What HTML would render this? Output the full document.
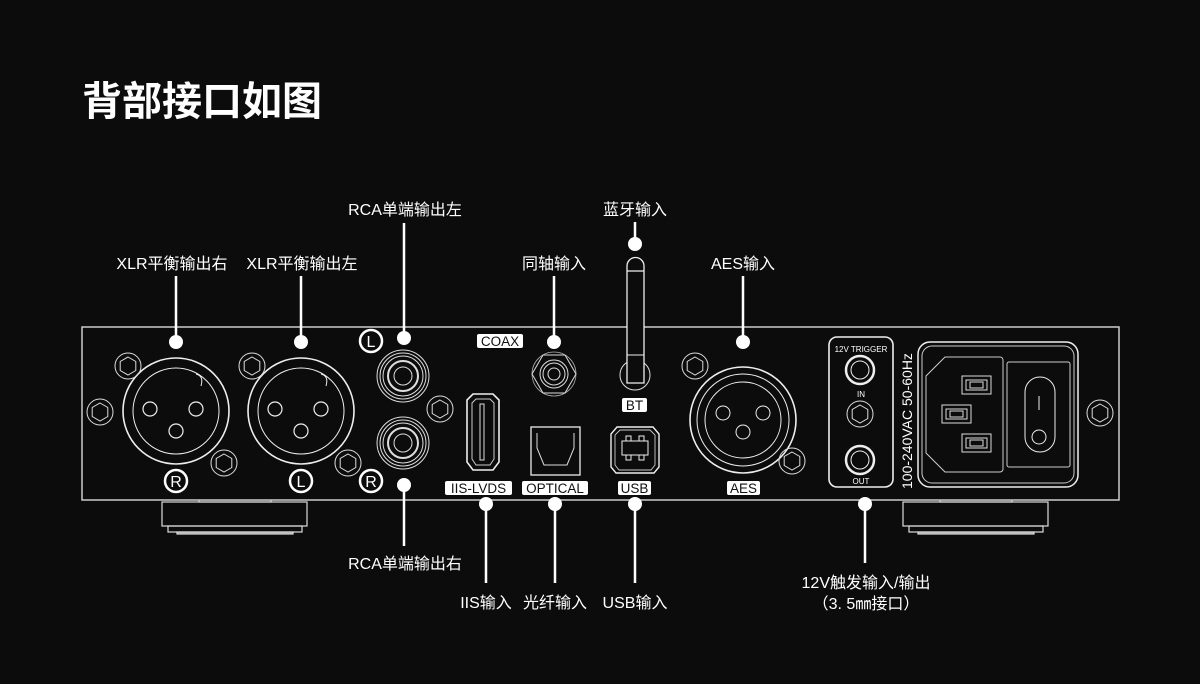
<!DOCTYPE html>
<html><head><meta charset="utf-8"><style>
html,body{margin:0;padding:0;background:#0c0c0c;}
svg{display:block}
text{font-family:"Liberation Sans","Noto Sans CJK SC",sans-serif;fill:#fff}
</style></head><body>
<svg width="1200" height="684" viewBox="0 0 1200 684" xmlns="http://www.w3.org/2000/svg">
<rect width="1200" height="684" fill="#0c0c0c"/>
<text x="82" y="115" font-size="40" font-weight="bold" font-family="'Noto Sans CJK SC',sans-serif">背部接口如图</text>

<!-- feet -->
<g fill="none" stroke="#ddd" stroke-width="1.2">
<rect x="199" y="500" width="72" height="2"/>
<rect x="162" y="502" width="145" height="24"/>
<rect x="168" y="526" width="134" height="6"/>
<rect x="177" y="532" width="116" height="2" fill="#999"/>
<rect x="940" y="500" width="72" height="2"/>
<rect x="903" y="502" width="145" height="24"/>
<rect x="909" y="526" width="134" height="6"/>
<rect x="918" y="532" width="116" height="2" fill="#999"/>
</g>
<!-- panel -->
<rect x="82" y="327" width="1037" height="173" fill="#0c0c0c" stroke="#ccc" stroke-width="1.5"/>

<defs>
<g id="hex"><circle r="13" fill="none" stroke="#ddd" stroke-width="1"/><polygon points="0,-9 7.8,-4.5 7.8,4.5 0,9 -7.8,4.5 -7.8,-4.5" fill="none" stroke="#ddd" stroke-width="1"/></g>
<g id="xlr" fill="none" stroke="#eee">
<circle r="53" stroke-width="1.6"/><circle r="43" stroke-width="1"/>
<circle cx="-26" cy="-2" r="7" stroke-width="1.2"/><circle cx="20" cy="-2" r="7" stroke-width="1.2"/><circle cx="0" cy="20" r="7" stroke-width="1.2"/>
</g>
<g id="rca" fill="none" stroke="#ddd" stroke-width="1"><circle r="26"/><circle r="23"/><circle r="20"/><circle r="15" stroke-width="2"/><circle r="9"/></g>
<g id="badge"><circle r="11" fill="none" stroke="#fff" stroke-width="2.5"/></g>
</defs>

<!-- XLR -->
<use href="#xlr" x="176" y="411"/><use href="#xlr" x="301" y="411"/>
<path d="M196,374 q8,2 5,12" fill="none" stroke="#eee"/><path d="M321,374 q8,2 5,12" fill="none" stroke="#eee"/>
<use href="#hex" x="128" y="366"/><use href="#hex" x="100" y="412"/><use href="#hex" x="224" y="463"/>
<use href="#hex" x="252" y="366"/><use href="#hex" x="348" y="463"/>
<use href="#rca" x="403" y="376"/><use href="#rca" x="403" y="443"/>
<use href="#hex" x="440" y="409"/>
<!-- badges -->
<use href="#badge" x="176" y="481"/><text x="176" y="487" font-size="16" text-anchor="middle">R</text>
<use href="#badge" x="301" y="481"/><text x="301" y="487" font-size="16" text-anchor="middle">L</text>
<use href="#badge" x="371" y="481"/><text x="371" y="487" font-size="16" text-anchor="middle">R</text>
<use href="#badge" x="371" y="341"/><text x="371" y="347" font-size="16" text-anchor="middle">L</text>

<!-- HDMI -->
<path d="M473,394 h20 l6,6 v62 l-6,8 h-20 l-6,-8 v-62 z" fill="none" stroke="#eee" stroke-width="1.6"/>
<path d="M476,399 h14 l4,4 v56 l-4,6 h-14 l-4,-6 v-56 z" fill="none" stroke="#ccc" stroke-width="1"/>
<rect x="480" y="404" width="4" height="56" fill="none" stroke="#ddd" stroke-width="1"/>
<!-- coax -->
<circle cx="554" cy="374" r="22" fill="none" stroke="#aaa" stroke-width="0.8"/>
<polygon points="543,355 565,355 576,374 565,393 543,393 532,374" fill="none" stroke="#ddd"/>
<circle cx="554" cy="374" r="14" fill="none" stroke="#ddd"/><circle cx="554" cy="374" r="11" fill="none" stroke="#ddd"/><circle cx="554" cy="374" r="6" fill="none" stroke="#ddd"/>
<!-- optical -->
<rect x="531" y="427" width="49" height="48" fill="none" stroke="#ddd" stroke-width="1.4"/>
<path d="M537,433 v15 l7,17 h23 l7,-17 v-15" fill="none" stroke="#ddd"/>
<!-- antenna -->
<circle cx="635" cy="375" r="15" fill="none" stroke="#ddd"/>
<path d="M627,383 v-117 a8,8 0 0 1 17,0 v117 z" fill="#0c0c0c" stroke="#eee" stroke-width="1.3"/>
<line x1="627" y1="271" x2="644" y2="271" stroke="#eee" stroke-width="1.3"/>
<line x1="627" y1="355" x2="644" y2="355" stroke="#eee"/>
<!-- USB -->
<path d="M617,427 h36 l6,7 v33 l-5,6 h-38 l-5,-6 v-33 z" fill="none" stroke="#eee" stroke-width="1.4"/>
<path d="M620,430 h30 l5,5 v30 l-4,5 h-32 l-4,-5 v-30 z" fill="none" stroke="#ccc" stroke-width="0.9"/>
<rect x="622" y="441" width="26" height="14" fill="none" stroke="#eee"/>
<rect x="626" y="436" width="5" height="5" fill="none" stroke="#eee"/><rect x="639" y="436" width="5" height="5" fill="none" stroke="#eee"/>
<rect x="626" y="455" width="5" height="5" fill="none" stroke="#eee"/><rect x="639" y="455" width="5" height="5" fill="none" stroke="#eee"/>
<!-- AES -->
<g fill="none" stroke="#eee"><circle cx="743" cy="420" r="53" stroke-width="1.6"/><circle cx="743" cy="420" r="46"/><circle cx="743" cy="420" r="38"/>
<circle cx="723" cy="413" r="7"/><circle cx="763" cy="413" r="7"/><circle cx="743" cy="432" r="7"/></g>
<use href="#hex" x="695" y="366"/><use href="#hex" x="792" y="461"/>

<!-- labels on panel -->
<g font-size="13.5">
<rect x="477" y="334" width="46" height="14" rx="2" fill="#fff"/><text x="500" y="346" text-anchor="middle" style="fill:#111">COAX</text>
<rect x="622" y="398" width="25" height="14" rx="2" fill="#fff"/><text x="634.5" y="410" text-anchor="middle" style="fill:#111">BT</text>
<rect x="445" y="481" width="67" height="14" rx="2" fill="#fff"/><text x="478.5" y="493" text-anchor="middle" style="fill:#111">IIS-LVDS</text>
<rect x="522" y="481" width="66" height="14" rx="2" fill="#fff"/><text x="555" y="493" text-anchor="middle" style="fill:#111">OPTICAL</text>
<rect x="618" y="481" width="33" height="14" rx="2" fill="#fff"/><text x="634.5" y="493" text-anchor="middle" style="fill:#111">USB</text>
<rect x="727" y="481" width="33" height="14" rx="2" fill="#fff"/><text x="743.5" y="493" text-anchor="middle" style="fill:#111">AES</text>
</g>

<!-- trigger -->
<rect x="829" y="337" width="64" height="150" rx="8" fill="none" stroke="#eee" stroke-width="1.6"/>
<text x="861" y="352" font-size="8" text-anchor="middle">12V TRIGGER</text>
<circle cx="860" cy="370" r="14" fill="none" stroke="#eee" stroke-width="2.5"/><circle cx="860" cy="370" r="9" fill="none" stroke="#eee"/>
<text x="861" y="397" font-size="8" text-anchor="middle">IN</text>
<use href="#hex" x="860" y="414"/>
<circle cx="860" cy="460" r="14" fill="none" stroke="#eee" stroke-width="2.5"/><circle cx="860" cy="460" r="9" fill="none" stroke="#eee"/>
<text x="861" y="484" font-size="8" text-anchor="middle">OUT</text>
<text transform="translate(912,489) rotate(-90)" font-size="14">100-240VAC 50-60Hz</text>
<!-- power module -->
<rect x="918" y="342" width="160" height="145" rx="12" fill="none" stroke="#eee" stroke-width="1.5"/>
<rect x="922" y="346" width="152" height="137" rx="10" fill="none" stroke="#ccc" stroke-width="1"/>
<path d="M945,357 h55 a3,3 0 0 1 3,3 v109 a3,3 0 0 1 -3,3 h-55 l-19,-19 v-77 z" fill="none" stroke="#ccc"/>
<g fill="none" stroke="#ddd"><rect x="962" y="376" width="29" height="18"/><rect x="966" y="380" width="21" height="10"/><rect x="970" y="382" width="13" height="6"/>
<rect x="942" y="405" width="29" height="18"/><rect x="946" y="409" width="21" height="10"/><rect x="950" y="411" width="13" height="6"/>
<rect x="962" y="434" width="29" height="18"/><rect x="966" y="438" width="21" height="10"/><rect x="970" y="440" width="13" height="6"/></g>
<rect x="1007" y="362" width="63" height="105" rx="2" fill="none" stroke="#ccc"/>
<rect x="1025" y="377" width="30" height="75" rx="15" fill="none" stroke="#eee"/>
<line x1="1039" y1="396" x2="1039" y2="410" stroke="#eee"/><circle cx="1039" cy="437" r="7" fill="none" stroke="#eee"/>
<use href="#hex" x="1100" y="413"/>

<!-- connectors -->
<g stroke="#fff" stroke-width="2.5">
<line x1="176" y1="276" x2="176" y2="342"/><line x1="301" y1="276" x2="301" y2="342"/>
<line x1="404" y1="223" x2="404" y2="338"/><line x1="404" y1="485" x2="404" y2="546"/>
<line x1="554" y1="276" x2="554" y2="342"/><line x1="635" y1="222" x2="635" y2="244"/>
<line x1="743" y1="276" x2="743" y2="342"/>
<line x1="486" y1="504" x2="486" y2="583"/><line x1="555" y1="504" x2="555" y2="583"/><line x1="635" y1="504" x2="635" y2="583"/>
<line x1="865" y1="504" x2="865" y2="563"/>
</g>
<g fill="#fff">
<circle cx="176" cy="342" r="7"/><circle cx="301" cy="342" r="7"/><circle cx="404" cy="338" r="7"/><circle cx="404" cy="485" r="7"/>
<circle cx="554" cy="342" r="7"/><circle cx="635" cy="244" r="7"/><circle cx="743" cy="342" r="7"/>
<circle cx="486" cy="504" r="7"/><circle cx="555" cy="504" r="7"/><circle cx="635" cy="504" r="7"/><circle cx="865" cy="504" r="7"/>
</g>
<g font-size="16" text-anchor="middle">
<text x="405" y="215">RCA单端输出左</text>
<text x="635" y="215">蓝牙输入</text>
<text x="172" y="269">XLR平衡输出右</text>
<text x="302" y="269">XLR平衡输出左</text>
<text x="554" y="269">同轴输入</text>
<text x="743" y="269">AES输入</text>
<text x="405" y="569">RCA单端输出右</text>
<text x="486" y="608">IIS输入</text>
<text x="555" y="608">光纤输入</text>
<text x="635" y="608">USB输入</text>
<text x="866" y="588">12V触发输入/输出</text>
<text x="866" y="609">（3. 5㎜接口）</text>
</g>
</svg>
</body></html>
